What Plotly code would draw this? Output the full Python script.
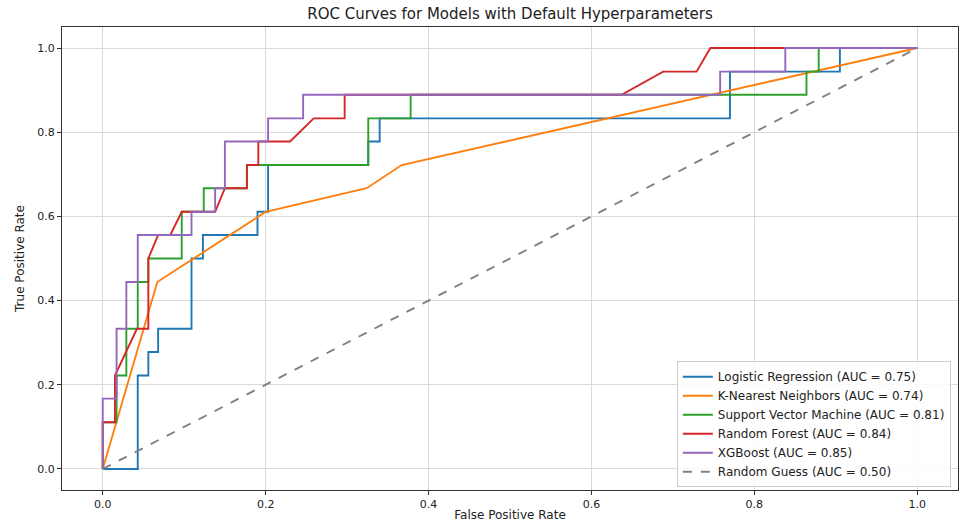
import plotly.graph_objects as go

# ---- data ----
lr_fpr = [0, 0, 0.043, 0.043, 0.056, 0.056, 0.068, 0.068, 0.109, 0.109, 0.123, 0.123, 0.19, 0.19,
          0.203, 0.203, 0.326, 0.326, 0.34, 0.34, 0.77, 0.77, 0.905, 0.905, 1.0]
lr_tpr = [0, 0, 0, 0.222, 0.222, 0.278, 0.278, 0.333, 0.333, 0.5, 0.5, 0.556, 0.556, 0.611,
          0.611, 0.722, 0.722, 0.778, 0.778, 0.833, 0.833, 0.944, 0.944, 1.0, 1.0]

knn_fpr = [0, 0.067, 0.2, 0.324, 0.367, 1.0]
knn_tpr = [0, 0.444, 0.611, 0.667, 0.722, 1.0]

svm_fpr = [0, 0, 0.017, 0.017, 0.029, 0.029, 0.043, 0.043, 0.056, 0.056, 0.097, 0.097, 0.124, 0.124,
           0.177, 0.177, 0.326, 0.326, 0.378, 0.378, 0.864, 0.864, 0.879, 0.879, 1.0]
svm_tpr = [0, 0.111, 0.111, 0.222, 0.222, 0.333, 0.333, 0.444, 0.444, 0.5, 0.5, 0.611, 0.611, 0.667,
           0.667, 0.722, 0.722, 0.833, 0.833, 0.889, 0.889, 0.944, 0.944, 1.0, 1.0]

rf_fpr = [0, 0, 0.015, 0.015, 0.042, 0.056, 0.056, 0.068, 0.083, 0.097, 0.138, 0.150, 0.177, 0.177,
          0.191, 0.191, 0.230, 0.259, 0.297, 0.297, 0.637, 0.688, 0.729, 0.746, 1.0]
rf_tpr = [0, 0.111, 0.111, 0.222, 0.333, 0.333, 0.5, 0.556, 0.556, 0.611, 0.611, 0.667, 0.667, 0.722,
          0.722, 0.778, 0.778, 0.833, 0.833, 0.889, 0.889, 0.944, 0.944, 1.0, 1.0]

xgb_fpr = [0, 0, 0.017, 0.017, 0.029, 0.029, 0.043, 0.043, 0.109, 0.109, 0.138, 0.138, 0.150, 0.150,
           0.203, 0.203, 0.246, 0.246, 0.758, 0.758, 0.838, 0.838, 1.0]
xgb_tpr = [0, 0.167, 0.167, 0.333, 0.333, 0.444, 0.444, 0.556, 0.556, 0.611, 0.611, 0.667, 0.667, 0.778,
           0.778, 0.833, 0.833, 0.889, 0.889, 0.944, 0.944, 1.0, 1.0]

rand_fpr = [0, 1]
rand_tpr = [0, 1]

names = ["Logistic Regression (AUC = 0.75)", "K-Nearest Neighbors (AUC = 0.74)",
         "Support Vector Machine (AUC = 0.81)", "Random Forest (AUC = 0.84)",
         "XGBoost (AUC = 0.85)", "Random Guess (AUC = 0.50)"]
colors = ["#1f77b4", "#ff7f0e", "#2ca02c", "#d62728", "#9467bd", "#808080"]
tick_vals = [0.0, 0.2, 0.4, 0.6, 0.8, 1.0]
tick_text = ["0.0", "0.2", "0.4", "0.6", "0.8", "1.0"]

series = [(lr_fpr, lr_tpr), (knn_fpr, knn_tpr), (svm_fpr, svm_tpr),
          (rf_fpr, rf_tpr), (xgb_fpr, xgb_tpr), (rand_fpr, rand_tpr)]

fig = go.Figure()
for i, ((x, y), n, c) in enumerate(zip(series, names, colors)):
    fig.add_trace(go.Scatter(
        x=x, y=y, mode="lines", name=n,
        line=dict(color=c, width=1.9, dash="dash" if i == 5 else "solid"),
    ))

font = "DejaVu Sans, Liberation Sans, sans-serif"
axis_common = dict(
    range=[-0.05, 1.05], tickvals=tick_vals, ticktext=tick_text,
    showgrid=True, gridcolor="#d9d9d9", gridwidth=1, zeroline=False,
    showline=True, linecolor="#333333", linewidth=1, mirror=True,
    ticks="outside", ticklen=4, tickcolor="#333333", automargin=False,
    tickfont=dict(size=11, color="#222222", family=font),
)
fig.update_layout(
    width=964, height=522,
    margin=dict(l=62, r=6, t=27, b=32),
    paper_bgcolor="white", plot_bgcolor="white",
    title=dict(text="ROC Curves for Models with Default Hyperparameters",
               x=(62 + 958) / 2 / 964, xanchor="center",
               yref="container", y=1 - 14 / 522, yanchor="middle",
               font=dict(size=15, color="#222222", family=font)),
    xaxis=dict(axis_common, title=dict(text="False Positive Rate", standoff=0,
                                       font=dict(size=12, color="#222222", family=font))),
    yaxis=dict(axis_common, title=dict(text="True Positive Rate", standoff=10,
                                       font=dict(size=12, color="#222222", family=font))),
    legend=dict(x=0.992, y=0.006, xanchor="right", yanchor="bottom",
                bgcolor="rgba(255,255,255,0.85)", bordercolor="#cccccc", borderwidth=1,
                font=dict(size=12, color="#222222", family=font),
                tracegroupgap=0, itemwidth=30),
    showlegend=True,
)

fig.write_html("out.html", config={"displayModeBar": False},
               post_script="document.body.style.margin='0px';")
